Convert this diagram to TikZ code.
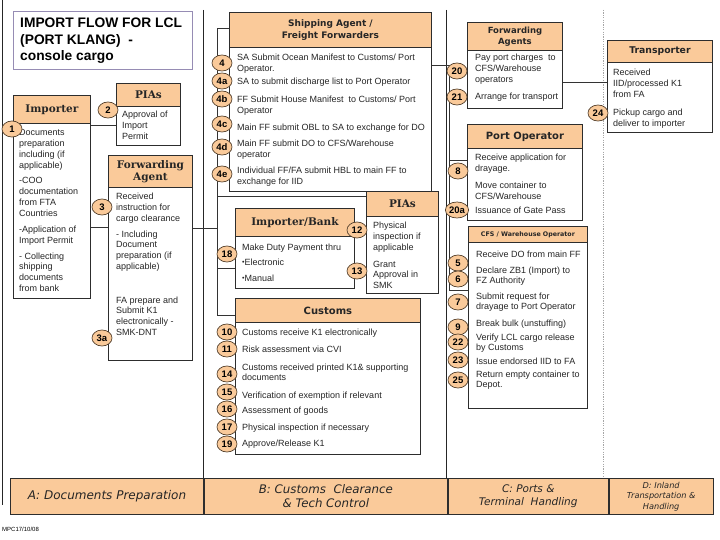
\documentclass[tikz,border=0pt]{standalone}
\usepackage{fontspec}
\setmainfont{Liberation Sans}
\newfontfamily\hdsans{DejaVu Sans}
\newfontfamily\hdserif{DejaVu Serif}
\newfontfamily\barfont{DejaVu Sans}
\usetikzlibrary{shapes.geometric,positioning,calc}
\definecolor{headfill}{RGB}{250,202,154}
\definecolor{boxline}{RGB}{45,45,45}
\definecolor{badgeline}{RGB}{85,65,45}
\definecolor{titleline}{RGB}{150,140,180}
\newcommand\stk[1]{\begin{tabular}[t]{@{}l@{}}#1\end{tabular}}
\tikzset{
    mybox/.style={draw=boxline,line width=0.9pt,fill=white,anchor=north west,inner sep=0pt},
    myhead/.style={draw=boxline,line width=0.9pt,fill=headfill,anchor=north west,inner sep=0pt,align=center,text=black!85},
    sanshead/.style={myhead,font=\hdsans\bfseries\fontsize{10}{12}\selectfont},
    serifhead/.style={myhead,font=\hdserif\bfseries\fontsize{10.5}{12.5}\selectfont},
    mybadge/.style={ellipse,draw=badgeline,fill=headfill,line width=0.7pt,inner sep=0.3pt,minimum width=20pt,minimum height=16pt,font=\bfseries\fontsize{9.5}{9.5}\selectfont},
    mytext/.style={anchor=base west,inner sep=0pt,text=black!85,font=\fontsize{9}{10.8}\selectfont},
    myline/.style={draw=black!80,line width=0.7pt},
    mysep/.style={draw=black!85,line width=0.8pt},
    mydots/.style={draw=black!35,line width=0.8pt,dash pattern=on 1.2pt off 1.2pt},
    mybar/.style={draw=boxline,line width=0.9pt,fill=headfill,anchor=north west,inner sep=0pt,align=center,text=black!85,minimum height=36pt,font=\barfont\itshape\fontsize{12}{14}\selectfont}
}

\begin{document}
\begin{tikzpicture}[x=1pt,y=-1pt]
  \useasboundingbox[fill=white] (0,0) rectangle (720,540);

  % 分区线
  \draw[mysep] (2,0) -- (2,505);
  \draw[mysep] (203,10) -- (203,478);
  \draw[mysep] (446,10) -- (446,478);
  \draw[mydots] (603,10) -- (603,478);

  % 标题
  \node[mybox,draw=titleline,minimum width=179pt,minimum height=58pt] (title) at (13,11) {};
  \node[anchor=base west,inner sep=0pt,
    font=\bfseries\fontsize{13.8}{16.5}\selectfont] (titletxt) at (20,28)
    {\stk{IMPORT FLOW FOR LCL\\(PORT KLANG)\ \ -\\console cargo}};

  % 方框
  \node[mybox,minimum width=77pt,minimum height=203pt] (imp) at (13,95) {};
  \node[serifhead,minimum width=77pt,minimum height=28pt] (imphd) at (imp.north west) {Importer};

  \node[mybox,minimum width=64pt,minimum height=62pt] (pia1) at (116,83) {};
  \node[serifhead,minimum width=64pt,minimum height=23pt] (pia1hd) at (pia1.north west) {PIAs};

  \node[mybox,minimum width=84pt,minimum height=205pt] (fa) at (108,155) {};
  \node[serifhead,minimum width=84pt,minimum height=32pt] (fahd) at (fa.north west) {Forwarding\\Agent};

  \node[mybox,minimum width=202pt,minimum height=179pt] (sa) at (229,12) {};
  \node[sanshead,minimum width=202pt,minimum height=35pt,font=\hdsans\bfseries\fontsize{9}{11.5}\selectfont]
    (sahd) at (sa.north west) {Shipping Agent /\\Freight Forwarders};

  \node[mybox,minimum width=119pt,minimum height=80pt] (ib) at (235,208) {};
  \node[serifhead,minimum width=119pt,minimum height=28pt] (ibhd) at (ib.north west) {Importer/Bank};

  \node[mybox,minimum width=72pt,minimum height=102pt] (pia2) at (366,191) {};
  \node[serifhead,minimum width=72pt,minimum height=25pt] (pia2hd) at (pia2.north west) {PIAs};

  \node[mybox,minimum width=185pt,minimum height=156pt] (cus) at (235,298) {};
  \node[sanshead,minimum width=185pt,minimum height=24pt] (cushd) at (cus.north west) {Customs};

  \node[mybox,minimum width=95pt,minimum height=86pt] (fwa) at (467,22) {};
  \node[sanshead,minimum width=95pt,minimum height=28pt,font=\hdsans\bfseries\fontsize{8.5}{10.5}\selectfont]
    (fwahd) at (fwa.north west) {Forwarding\\Agents};

  \node[mybox,minimum width=105pt,minimum height=92pt] (tr) at (607,40) {};
  \node[sanshead,minimum width=105pt,minimum height=22pt,font=\hdsans\bfseries\fontsize{9.3}{10}\selectfont]
    (trhd) at (tr.north west) {Transporter};

  \node[mybox,minimum width=115pt,minimum height=96pt] (po) at (467,124) {};
  \node[sanshead,minimum width=115pt,minimum height=24pt] (pohd) at (po.north west) {Port Operator};

  \node[mybox,minimum width=119pt,minimum height=182pt] (cfs) at (468,226) {};
  \node[sanshead,minimum width=119pt,minimum height=16pt,font=\hdsans\bfseries\fontsize{6.3}{7}\selectfont]
    (cfshd) at (cfs.north west) {CFS / Warehouse Operator};

  % 连线
  \coordinate (grpL) at (217,315);
  \coordinate (grpR) at (449,290);
  \draw[myline] (imp.east |- 0,125) -- (pia1.west |- 0,125);
  \draw[myline] (imp.east |- 0,227) -- (fa.west |- 0,227);
  \draw[myline] (fa.east |- 0,228) -- (grpL |- 0,228);
  \draw[myline] (sa.west |- 0,28) -| (grpL) -- (cus.west |- grpL);
  \draw[myline] (grpL |- 0,196) -- (pia2.west |- 0,196);
  \draw[myline] (grpL |- 0,268) -- (ib.west |- 0,268);
  \draw[myline] (sa.east |- 0,65) -| (grpR) -- (cfs.west |- grpR);
  \draw[myline] (grpR |- 0,160) -- (po.west |- 0,160);
  \draw[myline] (fwa.east |- 0,82) -- (tr.west |- 0,82);

  % 文字
  \node[mytext] (t1) at (19,136) {\stk{Documents\\preparation\\including (if\\applicable)}};
  \node[mytext] (t2) at (19,184) {\stk{-COO\\documentation\\from FTA\\Countries}};
  \node[mytext] (t3) at (19,233) {\stk{-Application of\\Import Permit}};
  \node[mytext] (t4) at (19,259) {\stk{- Collecting\\shipping\\documents\\from bank}};

  \node[mytext] (t5) at (122,118) {\stk{Approval of\\Import\\Permit}};

  \node[mytext] (t6) at (116,200) {\stk{Received\\instruction for\\cargo clearance}};
  \node[mytext] (t7) at (116,237) {\stk{- Including\\Document\\preparation (if\\applicable)}};
  \node[mytext] (t8) at (116,303) {\stk{FA prepare and\\Submit K1\\electronically -\\SMK-DNT}};

  \node[mytext] (t9) at (237,61) {\stk{SA Submit Ocean Manifest to Customs/ Port\\Operator.}};
  \node[mytext] (t10) at (237,85) {SA to submit discharge list to Port Operator};
  \node[mytext] (t11) at (237,103) {\stk{FF Submit House Manifest\ \ to Customs/ Port\\Operator}};
  \node[mytext] (t12) at (237,131) {Main FF submit OBL to SA to exchange for DO};
  \node[mytext] (t13) at (237,147) {\stk{Main FF submit DO to CFS/Warehouse\\operator}};
  \node[mytext] (t14) at (237,174) {\stk{Individual FF/FA submit HBL to main FF to\\exchange for IID}};

  \node[mytext] (t15) at (242,250) {Make Duty Payment thru};
  \node[mytext] (t16) at (242,265) {\raisebox{0.5pt}{\scriptsize•}Electronic};
  \node[mytext] (t17) at (242,281) {\raisebox{0.5pt}{\scriptsize•}Manual};

  \node[mytext] (t18) at (373,229) {\stk{Physical\\inspection if\\applicable}};
  \node[mytext] (t19) at (373,267) {\stk{Grant\\Approval in\\SMK}};

  \node[mytext] (t20) at (242,335) {Customs receive K1 electronically};
  \node[mytext] (t21) at (242,352) {Risk assessment via CVI};
  \node[mytext] (t22) at (242,370) {\stk{Customs received printed K1\& supporting\\documents}};
  \node[mytext] (t23) at (242,398) {Verification of exemption if relevant};
  \node[mytext] (t24) at (242,413) {Assessment of goods};
  \node[mytext] (t25) at (242,430) {Physical inspection if necessary};
  \node[mytext] (t26) at (242,446) {Approve/Release K1};

  \node[mytext] (t27) at (475,61) {\stk{Pay port charges\ \ to\\CFS/Warehouse\\operators}};
  \node[mytext] (t28) at (475,100) {Arrange for transport};

  \node[mytext] (t29) at (613,76) {\stk{Received\\IID/processed K1\\from FA}};
  \node[mytext] (t30) at (613,116) {\stk{Pickup cargo and\\deliver to importer}};

  \node[mytext] (t31) at (475,161) {\stk{Receive application for\\drayage.}};
  \node[mytext] (t32) at (475,189) {\stk{Move container to\\CFS/Warehouse}};
  \node[mytext] (t33) at (475,214) {Issuance of Gate Pass};

  \node[mytext] (t34) at (476,257) {Receive DO from main FF};
  \node[mytext] (t35) at (476,273) {\stk{Declare ZB1 (Import) to\\FZ Authority}};
  \node[mytext] (t36) at (476,299) {\stk{Submit request for\\drayage to Port Operator}};
  \node[mytext] (t37) at (476,326) {Break bulk (unstuffing)};
  \node[mytext] (t38) at (476,340) {\stk{Verify LCL cargo release\\by Customs}};
  \node[mytext] (t39) at (476,364) {Issue endorsed IID to FA};
  \node[mytext] (t40) at (476,377) {\stk{Return empty container to\\Depot.}};

  % 编号
  \foreach \n/\x/\y in {1/12/129, 2/108/110, 3/102/207, 3a/102/338,
      4/222/63, 4a/222/81, 4b/222/99, 4c/222/124, 4d/222/147, 4e/222/174,
      18/227/254, 12/357/230, 13/357/271,
      10/227/332, 11/227/349, 14/227/374, 15/227/392, 16/227/409, 17/227/427, 19/227/444,
      20/457/71, 21/457/97, 24/598/113, 8/458/171, 20a/457/210,
      5/458/263, 6/458/279, 7/458/302, 9/458/327, 22/458/342, 23/458/360, 25/458/380}{
    \node[mybadge] (b\n) at (\x,\y) {\n};
  }

  % 底部阶段
  \node[mybar,minimum width=193pt] (barA) at (10,478) {A: Documents Preparation};
  \node[mybar,minimum width=243pt,font=\barfont\itshape\fontsize{11.8}{14}\selectfont]
    (barB) at (barA.north east) {B: Customs\ \ Clearance\\\& Tech Control};
  \node[mybar,minimum width=160pt,font=\barfont\itshape\fontsize{10.5}{13}\selectfont]
    (barC) at (barB.north east) {C: Ports \&\\Terminal\ \ Handling};
  \node[mybar,minimum width=104pt,font=\barfont\itshape\fontsize{8.2}{10.3}\selectfont]
    (barD) at (barC.north east) {D: Inland\\Transportation \&\\Handling};

  \node[anchor=base west,inner sep=0pt,font=\fontsize{6}{7}\selectfont] (foot) at (2,531) {MPC17/10/08};
\end{tikzpicture}
\end{document}
